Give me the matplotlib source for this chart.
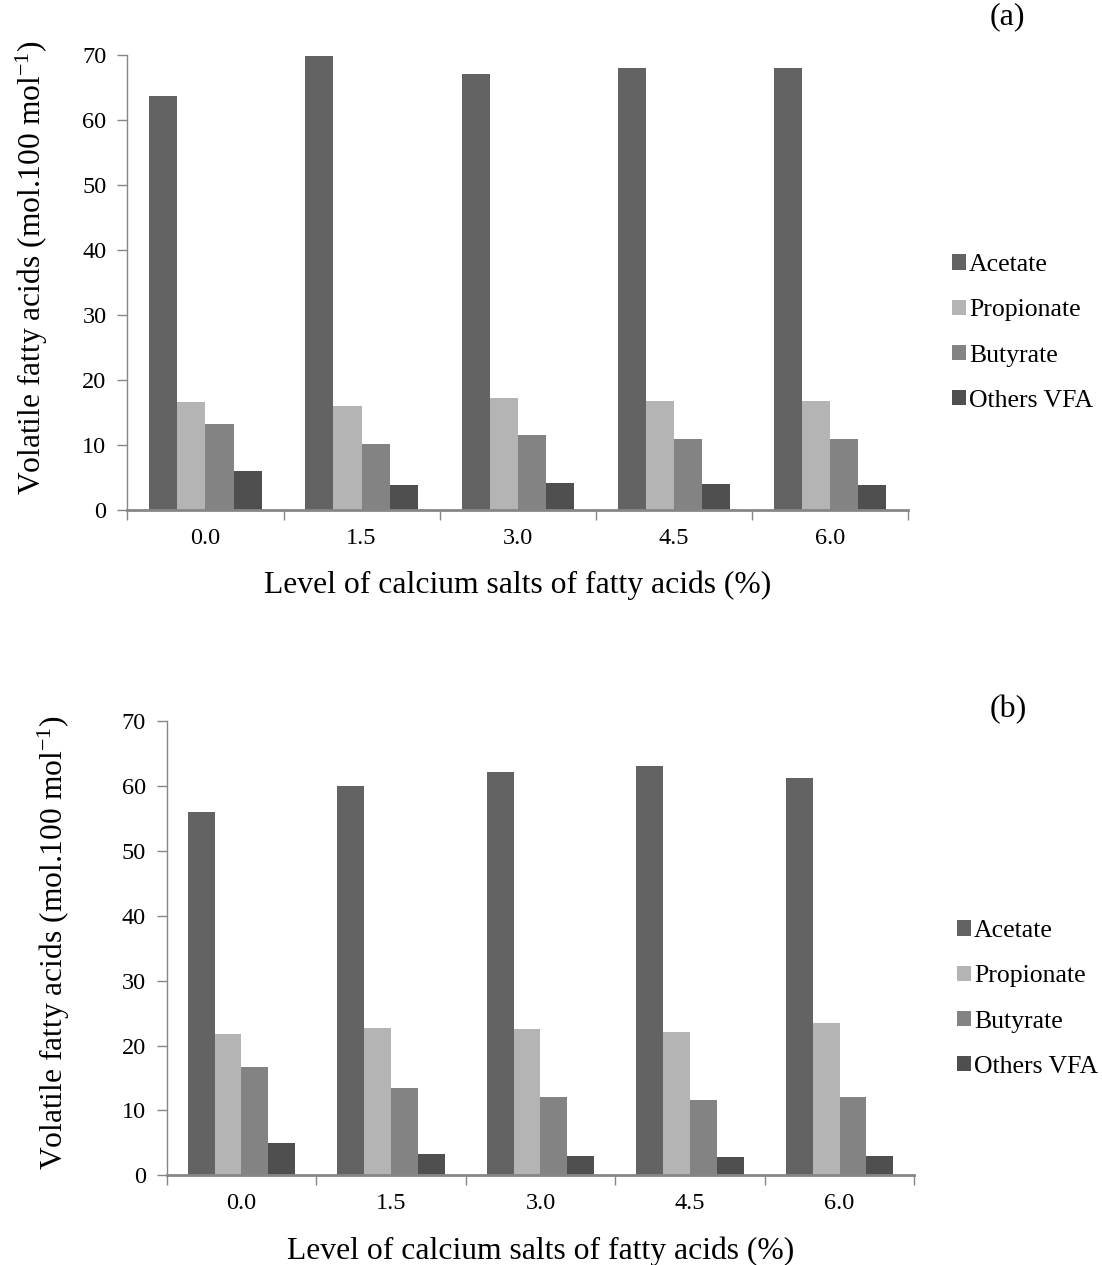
import matplotlib
matplotlib.use("Agg")
import matplotlib.pyplot as plt
import numpy as np

plt.rcParams['font.family'] = ['Liberation Serif', 'DejaVu Serif']
plt.rcParams['mathtext.fontset'] = 'custom'
plt.rcParams['mathtext.rm'] = 'Liberation Serif'
plt.rcParams['mathtext.it'] = 'Liberation Serif:italic'

levels = ["0.0", "1.5", "3.0", "4.5", "6.0"]
series_names = ["Acetate", "Propionate", "Butyrate", "Others VFA"]
colors = ["#636363", "#b4b4b4", "#838383", "#4f4f4f"]

# Panel (a)
a_acetate = [63.7, 69.9, 67.1, 68.0, 68.0]
a_propionate = [16.5, 15.9, 17.2, 16.7, 16.7]
a_butyrate = [13.1, 10.1, 11.5, 10.9, 10.9]
a_others = [6.0, 3.8, 4.1, 3.9, 3.8]

# Panel (b)
b_acetate = [56.0, 60.0, 62.2, 63.1, 61.2]
b_propionate = [21.8, 22.7, 22.6, 22.1, 23.5]
b_butyrate = [16.7, 13.5, 12.1, 11.6, 12.1]
b_others = [5.0, 3.3, 3.0, 2.8, 3.0]

yticks = [0, 10, 20, 30, 40, 50, 60, 70]
xlabel = "Level of calcium salts of fatty acids (%)"
ylabel = "Volatile fatty acids (mol.100 mol$^{\\mathregular{-1}}$)"

W, H = 1102, 1265
fig = plt.figure(figsize=(W / 100, H / 100), dpi=100)

spine_col = "#868686"

def panel(rect_px, data, tag, tagpos, legpos, ylab_x, ylab_y, xlab_y):
    l, t, r, b = rect_px
    ax = fig.add_axes([l / W, 1 - b / H, (r - l) / W, (b - t) / H])
    x = np.arange(len(levels))
    bw = 0.18
    for i, (vals, c, name) in enumerate(zip(data, colors, series_names)):
        ax.bar(x - 1.5 * bw + i * bw, vals, width=bw, color=c, label=name,
               linewidth=0)
    ax.set_xlim(-0.5, len(levels) - 0.5)
    ax.set_ylim(0, 70)
    ax.set_yticks(yticks)
    ax.set_yticklabels([str(v) for v in yticks], fontsize=17.5)
    ax.set_xticks(x)
    ax.set_xticklabels(levels, fontsize=17.5)
    ax.set_xticks(np.arange(-0.5, len(levels)), minor=True)
    ax.tick_params(axis='x', which='major', length=0, pad=13)
    ax.tick_params(axis='x', which='minor', length=7, width=1, color=spine_col,
                   direction='out')
    ax.tick_params(axis='y', which='major', length=7, width=1, color=spine_col,
                   direction='out', pad=8)
    for s in ['top', 'right']:
        ax.spines[s].set_visible(False)
    ax.spines['left'].set_color(spine_col)
    ax.spines['left'].set_linewidth(1)
    ax.spines['bottom'].set_color(spine_col)
    ax.spines['bottom'].set_linewidth(2)
    fig.text(((l + r) / 2) / W, 1 - xlab_y / H, xlabel, fontsize=22.8,
             ha='center', va='center')
    fig.text(ylab_x / W, 1 - ylab_y / H, ylabel, fontsize=22.7,
             ha='center', va='center', rotation=90)
    fig.text(tagpos[0] / W, 1 - tagpos[1] / H, tag, fontsize=23,
             ha='center', va='center')
    fig.legend(*ax.get_legend_handles_labels(), loc='center left',
               bbox_to_anchor=(legpos[0] / W, 1 - legpos[1] / H),
               frameon=False, fontsize=18.5, handlelength=0.55,
               handleheight=0.55, handletextpad=0.12, labelspacing=0.9,
               borderpad=0, borderaxespad=0)
    return ax

panel((127.3, 55.3, 908.3, 509.5),
      [a_acetate, a_propionate, a_butyrate, a_others], "(a)", (1007, 17),
      (952, 333), 32, 268, 585)
panel((166.7, 721, 914.3, 1175.3),
      [b_acetate, b_propionate, b_butyrate, b_others], "(b)", (1008, 710),
      (957, 999), 54, 943, 1251)

fig.savefig("out.png", dpi=100)
